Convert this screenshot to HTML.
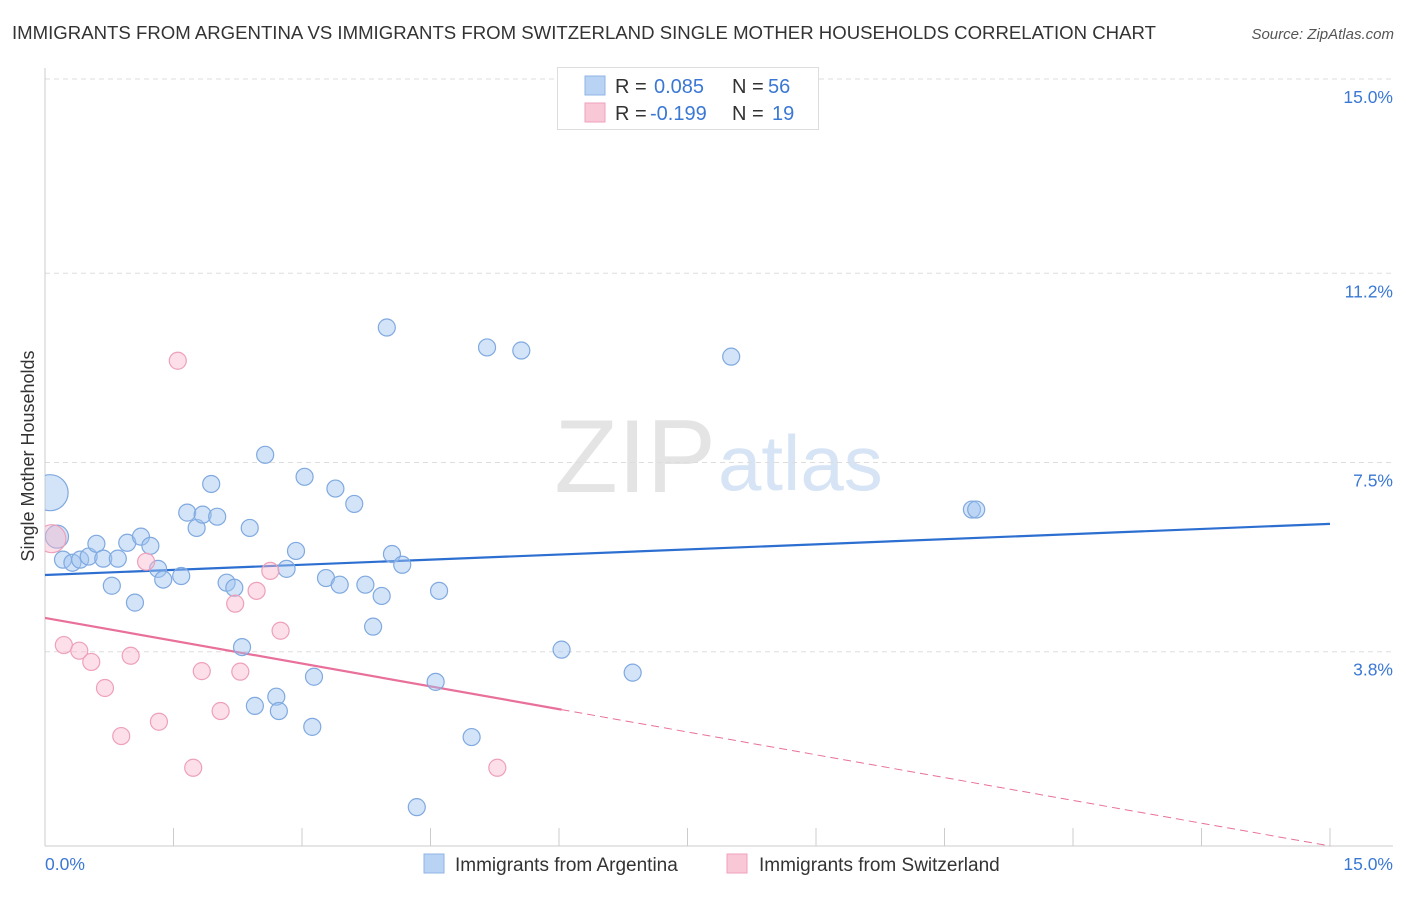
<!DOCTYPE html>
<html><head><meta charset="utf-8"><style>
body{margin:0;background:#fff;font-family:"Liberation Sans",sans-serif;}
svg text{font-family:"Liberation Sans",sans-serif;}
</style></head><body>
<svg id="chart" width="1406" height="892" xmlns="http://www.w3.org/2000/svg">
<defs><clipPath id="plotclip"><rect x="45" y="60" width="1360" height="790"/></clipPath></defs>
<text x="12" y="39" font-size="18.6" fill="#333">IMMIGRANTS FROM ARGENTINA VS IMMIGRANTS FROM SWITZERLAND SINGLE MOTHER HOUSEHOLDS CORRELATION CHART</text>
<text x="1394" y="39" font-size="15" fill="#555" font-style="italic" text-anchor="end">Source: ZipAtlas.com</text>
<text x="716" y="492" font-size="104" fill="#e4e4e4" font-family="Liberation Serif" text-anchor="end">ZIP</text>
<text x="718" y="490" font-size="78" fill="#d6e4f5">atlas</text>
<text transform="translate(34,456) rotate(-90)" font-size="18" fill="#333" text-anchor="middle">Single Mother Households</text>
<g id="grid"></g><g id="ticks"></g><g id="lines"></g><g id="pts" clip-path="url(#plotclip)"></g>
<g>
<rect x="557.5" y="67.5" width="261" height="62" fill="#fff" stroke="#ddd"/>
<rect x="585" y="76" width="20" height="19" fill="#b9d3f5" stroke="#8fb5e6"/>
<rect x="585" y="103" width="20" height="19" fill="#f9c8d7" stroke="#f0a0bb"/>
<text x="615" y="93" font-size="20" fill="#333">R = </text><text x="654" y="93" font-size="20" fill="#3a78d4">0.085</text>
<text x="732" y="93" font-size="20" fill="#333">N = </text><text x="768" y="93" font-size="20" fill="#3a78d4">56</text>
<text x="615" y="120" font-size="20" fill="#333">R = </text><text x="650" y="120" font-size="20" fill="#3a78d4">-0.199</text>
<text x="732" y="120" font-size="20" fill="#333">N = </text><text x="772" y="120" font-size="20" fill="#3a78d4">19</text>
</g>
<g>
<rect x="424" y="854" width="20" height="19" fill="#b9d3f5" stroke="#8fb5e6"/>
<text x="455" y="871" font-size="19" fill="#333">Immigrants from Argentina</text>
<rect x="727" y="854" width="20" height="19" fill="#f9c8d7" stroke="#f0a0bb"/>
<text x="759" y="871" font-size="19" fill="#333">Immigrants from Switzerland</text>
</g>
</svg>
<script>
const yTicks=[15.0,11.2,7.5,3.8];
const yTickLabels=["15.0%","11.2%","7.5%","3.8%"];
const blueX=[0.14,0.06,0.21,0.32,0.41,0.51,0.60,0.68,0.78,0.85,0.96,1.05,1.12,1.23,1.32,1.38,1.59,1.66,1.77,1.84,1.94,2.01,2.12,2.21,2.30,2.39,2.45,2.57,2.70,2.73,2.82,2.93,3.03,3.14,3.12,3.28,3.39,3.44,3.61,3.74,3.83,3.93,3.99,4.05,4.17,4.34,4.56,4.60,4.98,5.16,5.56,6.03,6.86,8.01,10.82,10.87];
const blueY=[6.05,6.91,5.60,5.54,5.60,5.66,5.91,5.62,5.09,5.62,5.93,4.76,6.05,5.87,5.42,5.21,5.28,6.52,6.22,6.48,7.08,6.44,5.15,5.05,3.89,6.22,2.74,7.65,2.92,2.64,5.42,5.77,7.22,3.31,2.33,5.24,6.99,5.11,6.69,5.11,4.29,4.89,10.14,5.71,5.50,0.76,3.21,4.99,2.13,9.75,9.69,3.84,3.39,9.57,6.58,6.58];
const pinkX=[0.08,0.22,0.40,0.54,0.70,0.89,1.00,1.18,1.33,1.55,1.73,1.83,2.05,2.22,2.28,2.47,2.63,2.75,5.28];
const pinkY=[6.01,3.93,3.82,3.60,3.09,2.15,3.72,5.56,2.43,9.49,1.53,3.42,2.64,4.74,3.41,4.99,5.38,4.21,1.53];
const blueTrend=[5.30,6.30];
const pinkTrend=[4.46,0];
const pinkSolidEnd=6.03;
const NS="http://www.w3.org/2000/svg";
const sx=v=>45+v*(1330-45)/15;
const sy=v=>846-v*(846-79)/15;
function mk(tag,attrs,parent){const e=document.createElementNS(NS,tag);for(const k in attrs)e.setAttribute(k,attrs[k]);document.getElementById(parent).appendChild(e);return e;}
yTicks.forEach((t,i)=>{
 const l=mk('line',{x1:45,x2:1393,y1:sy(t),y2:sy(t),stroke:'#ddd','stroke-dasharray':'5,4'},'grid');
 
 
 const tx=mk('text',{x:1393,y:sy(t)+24,'font-size':17.5,fill:'#3a78d4','text-anchor':'end'},'ticks');
 tx.textContent=yTickLabels[i];
 
 
});
const ax=mk('line',{x1:45,x2:45,y1:68,y2:846,stroke:'#ccc'},'grid');


const bx=mk('line',{x1:45,x2:1393,y1:846,y2:846,stroke:'#ccc'},'grid');


for(let i=0;i<=10;i++){const t=mk('line',{x1:sx(i*1.5),x2:sx(i*1.5),y1:828,y2:846,stroke:'#ccc'},'grid');
 
 }
const xl=mk('text',{x:45,y:870,'font-size':17.5,fill:'#3a78d4'},'ticks');xl.textContent='0.0%';


const xr=mk('text',{x:1393,y:870,'font-size':17.5,fill:'#3a78d4','text-anchor':'end'},'ticks');xr.textContent='15.0%';


function dots(X,Y,fill,stroke,name){X.forEach((x,i)=>{let r=8.5;if(i===0)r=name==='blue'?11.5:14;if(name==='blue'&&i===1)r=18;
 const c=mk('circle',{cx:sx(x),cy:sy(Y[i]),r:r,fill:fill,stroke:stroke,'stroke-width':1.2},'pts');
 
 });}
dots(blueX,blueY,'rgba(160,196,240,0.45)','#7fa9e0','blue');
dots(pinkX,pinkY,'rgba(248,185,205,0.45)','#eea0ba','pink');
const bl=mk('line',{x1:sx(0),y1:sy(blueTrend[0]),x2:sx(15),y2:sy(blueTrend[1]),stroke:'#2d6fd1','stroke-width':2.2},'lines');


const pv=x=>pinkTrend[0]+(pinkTrend[1]-pinkTrend[0])*x/15;
const pl=mk('line',{x1:sx(0),y1:sy(pv(0)),x2:sx(pinkSolidEnd),y2:sy(pv(pinkSolidEnd)),stroke:'#e8709a','stroke-width':2.2},'lines');


const pd=mk('line',{x1:sx(pinkSolidEnd),y1:sy(pv(pinkSolidEnd)),x2:sx(15),y2:sy(pv(15)),stroke:'#e8709a','stroke-width':1,'stroke-dasharray':'8,5'},'lines');


</script>
</body></html>
